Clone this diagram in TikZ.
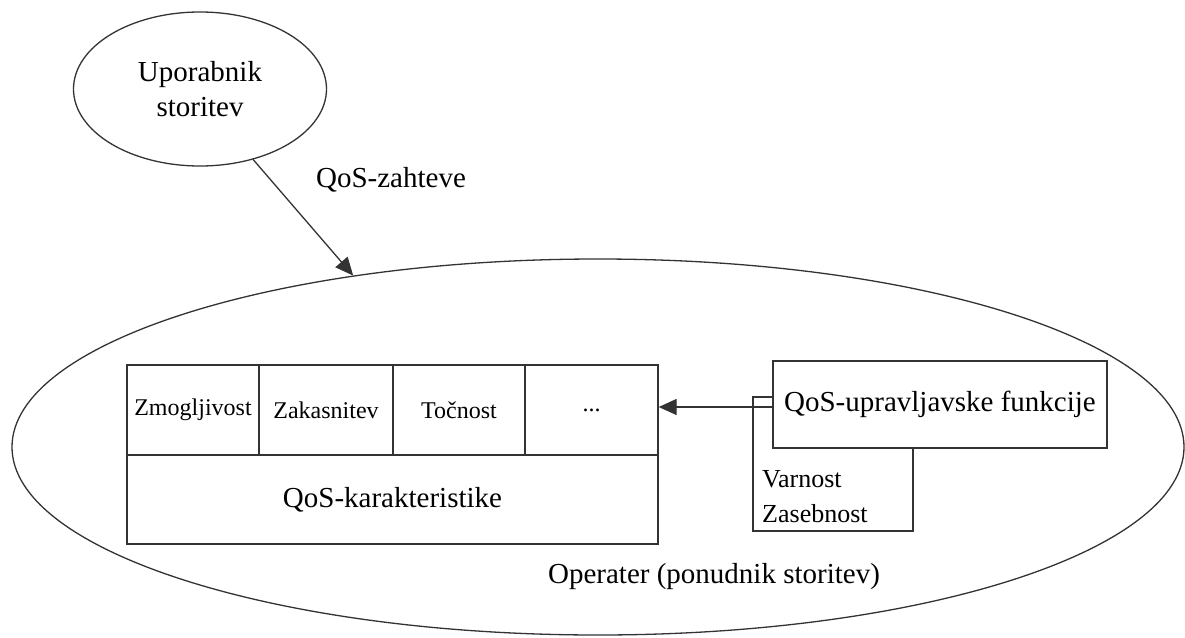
\documentclass[tikz,border=0pt]{standalone}
\usepackage{fontspec}
\setmainfont{Liberation Serif}
\usetikzlibrary{shapes,arrows.meta,calc}

\begin{document}
\begin{tikzpicture}
  [
    x=1pt, y=-1pt,
    ell/.style =
      {draw=black!80, line width=1.3pt, ellipse, inner sep=0pt},
    cell/.style =
      {draw=black!80, line width=1.3pt, rectangle, inner sep=0pt,
       minimum height=90pt, font=\fontsize{24}{28}\selectfont},
    txt/.style =
      {font=\fontsize{29}{35}\selectfont, align=center},
    sarrow/.style =
      {-{Triangle[length=18pt,width=16pt]}, draw=black!80, line width=1.3pt}
  ]

\useasboundingbox (0,0) rectangle (1185,637);

\node[ell, minimum width=1172pt, minimum height=376pt] (op) at (598,447) {};
\node[ell, txt, minimum width=253pt, minimum height=154pt] (user) at (200,89) {Uporabnik\\storitev};

\node[cell, minimum width=132pt] (zmog) at (193,410) {Zmogljivost};
\node[cell, minimum width=134pt] (zak) at (326,410) {Zakasnitev};
\node[cell, minimum width=132pt] (toc) at (459,410) {Točnost};
\node[cell, minimum width=133pt] (dots) at (591.5,410) {...};
\node[cell, minimum width=531pt, minimum height=89pt, font=\fontsize{29}{35}\selectfont] (kar) at (392.5,499.5) {QoS-karakteristike};

\node[cell, minimum width=160pt, minimum height=134pt] (vz) at (833,464) {};
\node[anchor=west, align=left, inner sep=0pt, font=\fontsize{26}{35}\selectfont] (sec) at (762,497) {Varnost\\Zasebnost};
\node[cell, fill=white, minimum width=334pt, minimum height=87pt, font=\fontsize{29}{35}\selectfont] (mgmt) at (940,404.5) {QoS-upravljavske funkcije};

\node[txt] (req) at (391,180) {QoS-zahteve};
\node[txt] (opl) at (714,577) {Operater (ponudnik storitev)};

\draw[sarrow] (user.-53.3) -- (op.145.2);
\draw[sarrow] ($(mgmt.west)+(0,2.5)$) -- ($(mgmt.west -| dots.east)+(0,2.5)$);

\end{tikzpicture}
\end{document}
